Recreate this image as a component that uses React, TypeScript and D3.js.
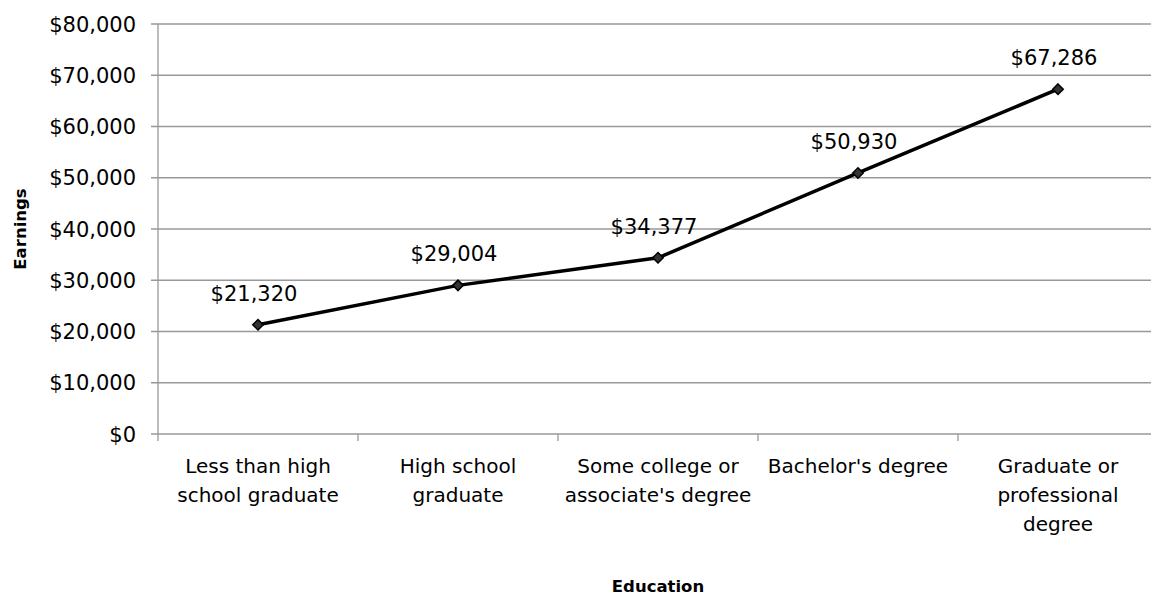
import React from "react";
import * as d3 from "d3";

const categories: string[][] = [
  ["Less than high", "school graduate"],
  ["High school", "graduate"],
  ["Some college or", "associate's degree"],
  ["Bachelor's degree"],
  ["Graduate or", "professional", "degree"],
];
const earnings: number[] = [21320, 29004, 34377, 50930, 67286];
const yTicks: number[] = [0, 10000, 20000, 30000, 40000, 50000, 60000, 70000, 80000];

const W = 1151;
const H = 598;
const FONT = "'DejaVu Sans', sans-serif";

export default function App() {
  const left = 158;
  const right = 1158;
  const top = 24;
  const bottom = 434;
  const x = d3
    .scaleBand<number>()
    .domain(d3.range(categories.length))
    .range([left, right]);
  const y = d3.scaleLinear().domain([0, 80000]).range([bottom, top]);
  const fmt = (v: number) => "$" + d3.format(",")(v);
  const cx = (i: number) => (x(i) as number) + x.bandwidth() / 2;
  const line = d3
    .line<number>()
    .x((_, i) => cx(i))
    .y((d) => y(d));
  const diamond = d3.symbol().type(d3.symbolDiamond2).size(70)();

  return (
    <svg
      width={W}
      height={H}
      style={{ position: "absolute", left: 0, top: 0, background: "#fff" }}
      fontFamily={FONT}
    >
      {yTicks.map((t) => (
        <g key={t}>
          <line x1={left - 7} x2={right} y1={y(t)} y2={y(t)} stroke="#999" strokeWidth={1.3} />
          <text x={136} y={y(t)} dy="0.36em" textAnchor="end" fontSize={21} fill="#000" textLength={undefined}>
            {fmt(t)}
          </text>
        </g>
      ))}
      <line x1={left} x2={left} y1={top} y2={bottom + 7} stroke="#999" strokeWidth={1.3} />
      {categories.map((_, i) => (
        <line
          key={i}
          x1={(x(i) as number) + x.bandwidth()}
          x2={(x(i) as number) + x.bandwidth()}
          y1={bottom}
          y2={bottom + 7}
          stroke="#999"
          strokeWidth={1.3}
        />
      ))}
      {categories.map((lines, i) => (
        <text key={i} textAnchor="middle" fontSize={20} fill="#000">
          {lines.map((l, j) => (
            <tspan key={j} x={cx(i)} y={473 + j * 29}>
              {l}
            </tspan>
          ))}
        </text>
      ))}
      <path d={line(earnings) || ""} fill="none" stroke="#000" strokeWidth={3.5} />
      {earnings.map((v, i) => (
        <g key={i}>
          <path
            d={diamond || ""}
            transform={`translate(${cx(i)},${y(v)})`}
            fill="#333"
            stroke="#000"
            strokeWidth={1.5}
          />
          <text x={cx(i) - 4} y={y(v) - 24} textAnchor="middle" fontSize={21} fill="#000">
            {fmt(v)}
          </text>
        </g>
      ))}
      <text
        transform={`translate(26,${(top + bottom) / 2}) rotate(-90)`}
        textAnchor="middle"
        fontSize={16.5}
        fontWeight="bold"
        fill="#000"
      >
        Earnings
      </text>
      <text x={(left + right) / 2} y={592} textAnchor="middle" fontSize={16.5} fontWeight="bold" fill="#000">
        Education
      </text>
    </svg>
  );
}
